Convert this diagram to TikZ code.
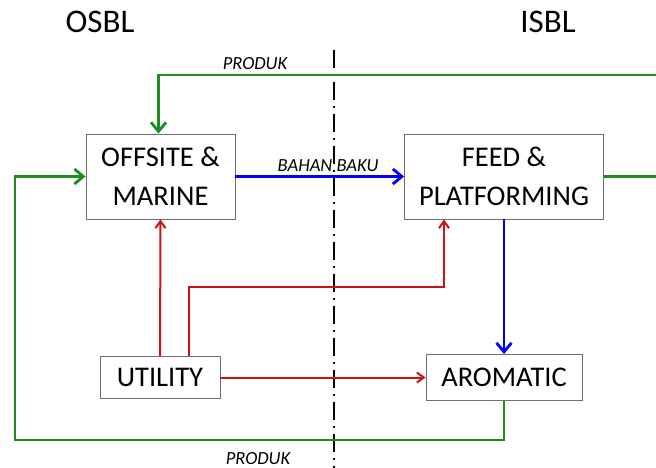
\documentclass[tikz,border=0pt]{standalone}
\usepackage{fontspec}
\setmainfont{Carlito}
\usetikzlibrary{arrows.meta}
\definecolor{grnc}{RGB}{30,140,30}
\definecolor{bluc}{RGB}{0,0,255}
\definecolor{redc}{RGB}{200,20,20}
\definecolor{boxc}{RGB}{110,110,110}
\begin{document}
\begin{tikzpicture}[x=1pt,y=-1pt,
  box/.style={draw=boxc, line width=0.9pt, fill=white, align=center, inner sep=0pt, font=\fontsize{28.5}{39}\selectfont},
  title/.style={font=\fontsize{33}{35}\selectfont},
  lbl/.style={font=\fontsize{18.5}{20}\selectfont\itshape, inner sep=0pt},
  grnline/.style={draw=grnc, line width=2.8pt},
  bluline/.style={draw=bluc, line width=2.8pt},
  redline/.style={draw=redc, line width=2pt},
  bigtip/.style={-{Straight Barb[length=9pt,width=15pt]}},
  smalltip/.style={-{Straight Barb[length=7pt,width=10pt]}}
]
\useasboundingbox (0,0) rectangle (656,468);
\fill[white] (0,0) rectangle (656,468);

\node[title] (osbl) at (100,22) {OSBL};
\node[title] (isbl) at (548,22) {ISBL};

\coordinate (divtop) at (334,50);
\coordinate (divbot) at (334,468);
\draw[line width=1.8pt, dash pattern=on 18pt off 6pt on 2pt off 6pt] (divtop) -- (divbot);

\node[box, minimum width=149pt, minimum height=85pt] (off) at (160.5,176.5) {OFFSITE \&\\MARINE};
\node[box, minimum width=199pt, minimum height=85pt] (feed) at (504,176.5) {FEED \&\\PLATFORMING};
\node[box, minimum width=120pt, minimum height=42pt] (util) at (160,377.5) {UTILITY};
\node[box, minimum width=156pt, minimum height=46pt] (aro) at (504,377.5) {AROMATIC};

\coordinate (rtop) at (656,75);
\coordinate (rmid) at (656,176.5);
\coordinate (lbot) at (15,440);
\coordinate (rbend) at (444,287);

% green
\draw[grnline, bigtip] (rtop) -| ([xshift=-2pt]off.north);
\draw[grnline] (feed.east) -- (rmid);
\draw[grnline, bigtip] (aro.south) |- (lbot) |- (off.west);

% blue
\draw[bluline, bigtip] (off.east) -- (feed.west);
\draw[bluline, bigtip] (feed.south) -- (aro.north);

% red
\draw[redline, smalltip] (util.north) -- (off.south);
\draw[redline, smalltip] ([xshift=29pt]util.north) |- (rbend) -- (rbend |- feed.south);
\draw[redline, smalltip] (util.east) -- (aro.west);

\node[lbl] (ptop) at (255,64) {PRODUK};
\node[lbl] (bb) at (328,166) {BAHAN BAKU};
\node[lbl] (pbot) at (258,458.5) {PRODUK};
\end{tikzpicture}
\end{document}
